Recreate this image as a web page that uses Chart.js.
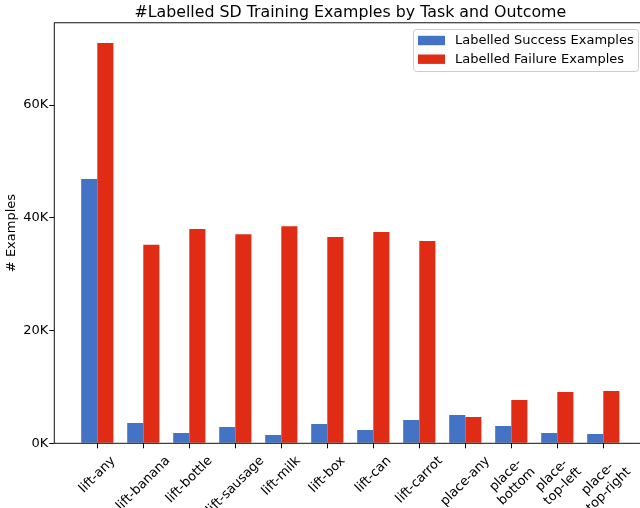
<!DOCTYPE html>
<html>
<head>
<meta charset="utf-8">
<script src="https://cdn.jsdelivr.net/npm/chart.js@4.4.0/dist/chart.umd.min.js"></script>
<style>
  html, body { margin: 0; padding: 0; background: #fff; overflow: hidden; }
  #wrap { width: 700px; height: 508px; }
</style>
</head>
<body>
<div id="wrap"><canvas id="grafico"></canvas></div>
<script>
// tasks and labelled example counts
const tarefas = ['lift-any', 'lift-banana', 'lift-bottle', 'lift-sausage', 'lift-milk', 'lift-box',
  'lift-can', 'lift-carrot', 'place-any', ['place-', 'bottom'], ['place-', 'top-left'], ['place-', 'top-right']];
const sucesso = [46900, 3600, 1830, 2900, 1470, 3420, 2360, 4130, 5000, 3070, 1830, 1650];
const falha = [71000, 35200, 38000, 37100, 38500, 36600, 37500, 35900, 4670, 7680, 9100, 9280];
const yTicks = [0, 20000, 40000, 60000];
const yMax = 74600;

Chart.defaults.font.family = '"DejaVu Sans", sans-serif';
Chart.defaults.color = '#000';

// axes frame, drawn over the bars like matplotlib spines
const moldura = {
  id: 'moldura',
  afterDatasetsDraw(chart) {
    const { ctx, chartArea: a } = chart;
    ctx.save();
    ctx.strokeStyle = '#111';
    ctx.lineWidth = 1;
    ctx.strokeRect(a.left, a.top, a.right - a.left, a.bottom - a.top);
    ctx.restore();
  }
};

// rotated x labels, centred on each tick
const rotulosX = {
  id: 'rotulosX',
  afterDraw(chart) {
    const ctx = chart.ctx, xs = chart.scales.x;
    const fs = 13, lh = fs * 1.2;
    ctx.save();
    ctx.font = fs + 'px "DejaVu Sans"';
    ctx.fillStyle = '#000';
    ctx.textAlign = 'center';
    ctx.textBaseline = 'middle';
    tarefas.forEach((t, i) => {
      const linhas = Array.isArray(t) ? t : [t];
      const w = Math.max(...linhas.map(l => ctx.measureText(l).width));
      const h = linhas.length * lh;
      const lado = (w + h) * Math.SQRT1_2;
      const cx = xs.getPixelForValue(i);
      const cy = chart.chartArea.bottom + 10 + lado / 2;
      ctx.save();
      ctx.translate(cx, cy);
      ctx.rotate(-Math.PI / 4);
      linhas.forEach((l, k) => ctx.fillText(l, 0, -h / 2 + lh * (k + 0.5)));
      ctx.restore();
    });
    ctx.restore();
  }
};

// legend box in the upper right corner of the axes
const legenda = {
  id: 'legenda',
  afterDraw(chart) {
    const { ctx, chartArea: a } = chart;
    const w = 225, h = 42;
    const x = Math.round(a.right - 8 - w) + 0.5, y = Math.round(a.top + 6) + 0.5;
    ctx.save();
    ctx.fillStyle = 'rgba(255,255,255,0.8)';
    ctx.strokeStyle = '#cccccc';
    ctx.lineWidth = 1;
    ctx.beginPath();
    ctx.roundRect(x, y, w, h, 3);
    ctx.fill();
    ctx.stroke();
    ctx.font = '13px "DejaVu Sans"';
    ctx.textBaseline = 'middle';
    chart.data.datasets.forEach((ds, i) => {
      const cy = y + 11 + i * 18.7;
      ctx.fillStyle = ds.backgroundColor;
      ctx.fillRect(x + 4.5, cy - 4.7, 27, 9.4);
      ctx.fillStyle = '#000';
      ctx.fillText(ds.label, x + 41.5, cy);
    });
    ctx.restore();
  }
};

const ctx = document.getElementById('grafico').getContext('2d');

new Chart(ctx, {
  type: 'bar',
  data: {
    datasets: [
      {
        label: 'Labelled Success Examples',
        data: sucesso.map((v, i) => ({ x: i, y: v })),
        backgroundColor: '#4472c4'
      },
      {
        label: 'Labelled Failure Examples',
        data: falha.map((v, i) => ({ x: i, y: v })),
        backgroundColor: '#e02c14'
      }
    ]
  },
  options: {
    responsive: true,
    maintainAspectRatio: false,
    animation: false,
    categoryPercentage: 0.7,
    barPercentage: 1.0,
    layout: { padding: { left: 0, right: 53.7, top: 0, bottom: 0 } },
    plugins: {
      legend: { display: false },
      tooltip: { enabled: false },
      title: {
        display: true,
        fullSize: false,
        text: '#Labelled SD Training Examples by Task and Outcome',
        font: { size: 15.8, weight: 'normal' },
        color: '#000',
        padding: { top: 3.7, bottom: 0.1 }
      }
    },
    scales: {
      x: {
        type: 'linear',
        offset: false,
        min: -0.935,
        max: 11.935,
        afterBuildTicks: s => { s.ticks = tarefas.map((_, i) => ({ value: i })); },
        afterFit: s => { s.height = 64.7; },
        ticks: { display: false },
        grid: { display: true, offset: false, drawOnChartArea: false, drawTicks: true, tickLength: 5, color: '#000' },
        border: { display: false }
      },
      y: {
        min: 0,
        max: yMax,
        afterBuildTicks: s => { s.ticks = yTicks.map(v => ({ value: v })); },
        afterFit: s => { s.width = 54.3; },
        ticks: { padding: 1, font: { size: 13 }, color: '#000', callback: v => (v / 1000) + 'K' },
        grid: { drawOnChartArea: false, tickLength: 5, color: '#000' },
        border: { display: false },
        title: {
          display: true,
          text: '# Examples',
          font: { size: 13 },
          color: '#000',
          padding: { top: 4.2, bottom: 0 }
        }
      }
    }
  },
  plugins: [moldura, rotulosX, legenda]
});
</script>
</body>
</html>
